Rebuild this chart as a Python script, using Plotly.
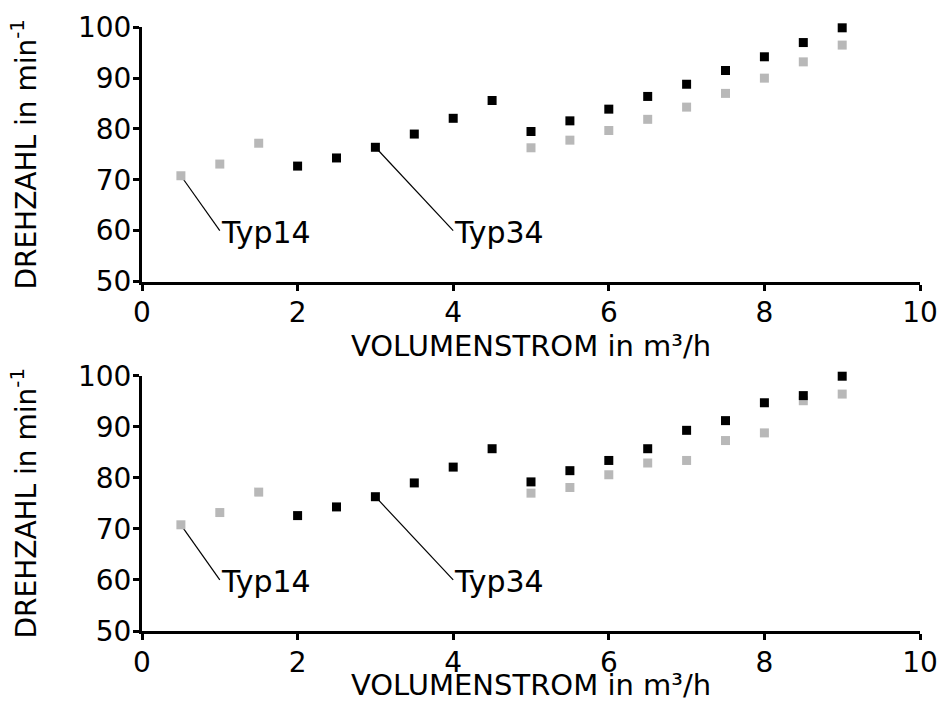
import plotly.graph_objects as go

# Data (top chart)
x_typ14_top = [0.5, 1.0, 1.5, 5.0, 5.5, 6.0, 6.5, 7.0, 7.5, 8.0, 8.5, 9.0]
y_typ14_top = [70.8, 73.1, 77.2, 76.3, 77.8, 79.7, 81.9, 84.3, 87.0, 90.0, 93.2, 96.5]
x_typ34_top = [2.0, 2.5, 3.0, 3.5, 4.0, 4.5, 5.0, 5.5, 6.0, 6.5, 7.0, 7.5, 8.0, 8.5, 9.0]
y_typ34_top = [72.7, 74.3, 76.4, 79.0, 82.1, 85.6, 79.5, 81.6, 83.9, 86.4, 88.8, 91.5, 94.2, 97.0, 99.9]

# Data (bottom chart)
x_typ14_bot = [0.5, 1.0, 1.5, 5.0, 5.5, 6.0, 6.5, 7.0, 7.5, 8.0, 8.5, 9.0]
y_typ14_bot = [70.8, 73.2, 77.2, 77.0, 78.1, 80.6, 82.9, 83.4, 87.3, 88.8, 95.1, 96.4]
x_typ34_bot = [2.0, 2.5, 3.0, 3.5, 4.0, 4.5, 5.0, 5.5, 6.0, 6.5, 7.0, 7.5, 8.0, 8.5, 9.0]
y_typ34_bot = [72.6, 74.3, 76.3, 79.0, 82.1, 85.7, 79.2, 81.4, 83.4, 85.7, 89.3, 91.2, 94.7, 96.1, 99.9]

# Labels
label_names = ["Typ14", "Typ34"]
label_point_x = [0.5, 3.0]
label_text_x = [1.0, 4.0]
label_text_y = [60.0, 60.0]

x_ticks = [0, 2, 4, 6, 8, 10]
y_ticks = [50, 60, 70, 80, 90, 100]
x_title = "VOLUMENSTROM in m³/h"
y_title = "DREHZAHL in min<sup>-1</sup>"

FONT = "DejaVu Sans, Verdana, sans-serif"
FS = 28
GRAY = "#b8b8b8"

fig = go.Figure()

panels = [
    ("x", "y", x_typ14_top, y_typ14_top, x_typ34_top, y_typ34_top),
    ("x2", "y2", x_typ14_bot, y_typ14_bot, x_typ34_bot, y_typ34_bot),
]

for xa, ya, x14, y14, x34, y34 in panels:
    pts_y = [y14[x14.index(label_point_x[0])], y34[x34.index(label_point_x[1])]]
    for name, px, py, tx, ty in zip(label_names, label_point_x, pts_y, label_text_x, label_text_y):
        fig.add_trace(go.Scatter(x=[px, tx], y=[py, ty], mode="lines", xaxis=xa, yaxis=ya,
                                 line=dict(color="black", width=1.2), showlegend=False,
                                 hoverinfo="skip"))
        fig.add_annotation(x=tx, y=ty, xref=xa, yref=ya, text=name, showarrow=False,
                           xanchor="left", yanchor="middle", xshift=-1, yshift=-2,
                           font=dict(family=FONT, size=30, color="black"))
    fig.add_trace(go.Scatter(x=x14, y=y14, mode="markers", xaxis=xa, yaxis=ya, cliponaxis=False,
                             marker=dict(symbol="square", size=9, color=GRAY, line=dict(width=0)),
                             showlegend=False))
    fig.add_trace(go.Scatter(x=x34, y=y34, mode="markers", xaxis=xa, yaxis=ya, cliponaxis=False,
                             marker=dict(symbol="square", size=9, color="black", line=dict(width=0)),
                             showlegend=False))

axis_common = dict(showgrid=False, zeroline=False, showline=True, linecolor="black", linewidth=3,
                   ticks="outside", ticklen=6, tickwidth=2.5, tickcolor="black", automargin=False,
                   tickfont=dict(family=FONT, size=FS, color="black"))

H = 702.0
top_dom = [1 - 281.5 / H, 1 - 27.3 / H]
bot_dom = [1 - 631.0 / H, 1 - 375.7 / H]

xaxis_cfg = dict(domain=[0, 1], range=[0, 10], tickvals=x_ticks, ticklabelstandoff=-2,
                 title=dict(text=x_title, standoff=0, font=dict(family=FONT, size=29)),
                 **axis_common)
yaxis_cfg = dict(range=[50, 100], tickvals=y_ticks, ticklabelstandoff=-4,
                 title=dict(text=y_title, standoff=34, font=dict(family=FONT, size=FS)),
                 **axis_common)

fig.update_layout(
    width=942, height=702,
    margin=dict(l=142, r=22, t=0, b=0),
    plot_bgcolor="white", paper_bgcolor="white",
    font=dict(family=FONT, size=FS, color="black"),
    xaxis=dict(anchor="y", **xaxis_cfg),
    yaxis=dict(anchor="x", domain=top_dom, **yaxis_cfg),
    xaxis2=dict(anchor="y2", **xaxis_cfg),
    yaxis2=dict(anchor="x2", domain=bot_dom, **yaxis_cfg),
)

fig.write_html("out.html", config={"displayModeBar": False},
               post_script="document.body.style.margin='0';document.body.style.overflow='hidden';")
